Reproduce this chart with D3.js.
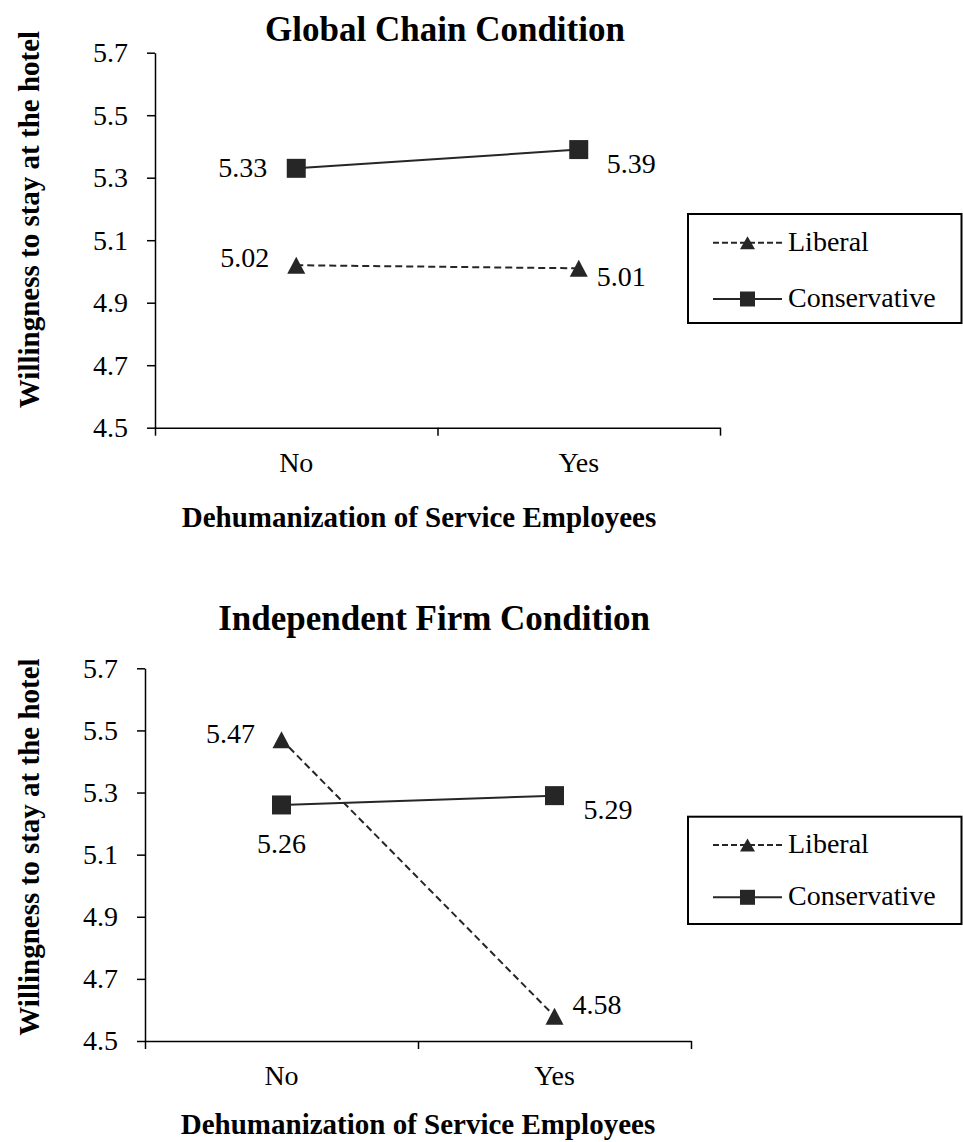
<!DOCTYPE html>
<html>
<head>
<meta charset="utf-8">
<script src="https://cdn.jsdelivr.net/npm/d3@7"></script>
<style>
  html, body { margin: 0; padding: 0; background: #fff; }
  svg { display: block; }
  text { font-family: "Liberation Serif", "Times New Roman", Times, serif; fill: #000; }
</style>
</head>
<body>
<svg id="chart" width="963" height="1142"></svg>
<script>
// Interaction plot data: willingness to stay, by dehumanization and ideology
const categories = ["No", "Yes"];
const seriesNames = ["Liberal", "Conservative"];
const yTicks = [4.5, 4.7, 4.9, 5.1, 5.3, 5.5, 5.7];
const panelTitles = ["Global Chain Condition", "Independent Firm Condition"];
const globalLiberal = [5.02, 5.01];
const globalConservative = [5.33, 5.39];
const independentLiberal = [5.47, 4.58];
const independentConservative = [5.26, 5.29];
const xTitle = "Dehumanization of Service Employees";
const yTitle = "Willingness to stay at the hotel";

const ink = "#262626";
const svg = d3.select("#chart");

// Panel geometry and label placement (dx, dy from each point; anchor)
const panels = [
  {
    title: panelTitles[0],
    liberal: globalLiberal,
    conservative: globalConservative,
    left: 155, right: 720, top: 52.7, bottom: 427.7,
    titleX: 445, titleY: 41,
    yTitleX: 39, yTitleY: 219.5,
    xTitleX: 419, xTitleGap: 99,
    legend: { x0: 688, x1: 961.5, y0: 214, y1: 323, rows: [242.7, 299] },
    libLabels: [{dx: -27, dy: 2, anchor: "end"}, {dx: 18, dy: 18, anchor: "start"}],
    conLabels: [{dx: -29, dy: 8.5, anchor: "end"}, {dx: 28, dy: 23, anchor: "start"}]
  },
  {
    title: panelTitles[1],
    liberal: independentLiberal,
    conservative: independentConservative,
    left: 145, right: 691, top: 668.3, bottom: 1041,
    titleX: 434, titleY: 630,
    yTitleX: 39, yTitleY: 847,
    xTitleX: 418, xTitleGap: 93,
    legend: { x0: 688, x1: 961.5, y0: 816.7, y1: 924, rows: [845, 897.3] },
    libLabels: [{dx: -26.5, dy: 3, anchor: "end"}, {dx: 18, dy: -2, anchor: "start"}],
    conLabels: [{dx: 0, dy: 48, anchor: "middle"}, {dx: 29, dy: 23, anchor: "start"}]
  }
];

const triangle = (s, h) => `M0,${-h/2}L${s/2},${h/2}L${-s/2},${h/2}Z`;
const square = s => `M${-s/2},${-s/2}h${s}v${s}h${-s}Z`;

panels.forEach(p => {
  const g = svg.append("g");

  const y = d3.scaleLinear().domain([4.5, 5.7]).range([p.bottom, p.top]);
  const x = d3.scaleBand().domain(categories).range([p.left, p.right]).padding(0);
  const xEdge = d3.scaleLinear().domain([0, categories.length]).range([p.left, p.right]);
  const cx = c => x(c) + x.bandwidth() / 2;

  // Y axis
  const yAxis = g.append("g")
    .attr("transform", `translate(${p.left},0)`)
    .call(d3.axisLeft(y).tickValues(yTicks).tickFormat(d3.format(".1f"))
      .tickSize(8).tickSizeOuter(0).tickPadding(19));
  yAxis.attr("font-family", null);
  yAxis.select(".domain").attr("stroke", "#000").attr("stroke-width", 1.5);
  yAxis.selectAll(".tick line").attr("stroke", "#000").attr("stroke-width", 1.5);
  yAxis.selectAll(".tick text").style("font-size", "28px").attr("fill", "#000");

  // X axis with ticks at category boundaries
  const xAxis = g.append("g")
    .attr("transform", `translate(0,${p.bottom})`)
    .call(d3.axisBottom(xEdge).tickValues(d3.range(0, categories.length + 1))
      .tickFormat("").tickSize(8).tickSizeOuter(0));
  xAxis.select(".domain").attr("stroke", "#000").attr("stroke-width", 1.5);
  xAxis.selectAll(".tick line").attr("stroke", "#000").attr("stroke-width", 1.5);

  g.selectAll(".cat").data(categories).join("text")
    .attr("x", d => cx(d)).attr("y", p.bottom + 44)
    .attr("text-anchor", "middle").style("font-size", "28px").text(d => d);

  // Titles
  g.append("text").attr("x", p.titleX).attr("y", p.titleY)
    .attr("text-anchor", "middle").style("font-size", "35px").style("font-weight", "bold")
    .text(p.title);
  g.append("text").attr("x", p.xTitleX).attr("y", p.bottom + p.xTitleGap)
    .attr("text-anchor", "middle").style("font-size", "29px").style("font-weight", "bold")
    .text(xTitle);
  g.append("text")
    .attr("transform", `translate(${p.yTitleX},${p.yTitleY}) rotate(-90)`)
    .attr("text-anchor", "middle").style("font-size", "29px").style("font-weight", "bold")
    .text(yTitle);

  const line = d3.line().x((d, i) => cx(categories[i])).y(d => y(d));

  // Liberal: dashed line with triangles
  g.append("path").datum(p.liberal).attr("d", line)
    .attr("fill", "none").attr("stroke", ink).attr("stroke-width", 2).attr("stroke-dasharray", "7,4");
  // Conservative: solid line with squares
  g.append("path").datum(p.conservative).attr("d", line)
    .attr("fill", "none").attr("stroke", ink).attr("stroke-width", 2);

  g.selectAll(".tri").data(p.liberal).join("path")
    .attr("transform", (d, i) => `translate(${cx(categories[i])},${y(d)})`)
    .attr("d", triangle(18, 17)).attr("fill", ink);
  g.selectAll(".sq").data(p.conservative).join("path")
    .attr("transform", (d, i) => `translate(${cx(categories[i])},${y(d)})`)
    .attr("d", square(19)).attr("fill", ink);

  // Value labels
  const fmt = d3.format(".2f");
  g.selectAll(".libLab").data(p.liberal).join("text")
    .attr("x", (d, i) => cx(categories[i]) + p.libLabels[i].dx)
    .attr("y", (d, i) => y(d) + p.libLabels[i].dy)
    .attr("text-anchor", (d, i) => p.libLabels[i].anchor)
    .style("font-size", "28px").text(d => fmt(d));
  g.selectAll(".conLab").data(p.conservative).join("text")
    .attr("x", (d, i) => cx(categories[i]) + p.conLabels[i].dx)
    .attr("y", (d, i) => y(d) + p.conLabels[i].dy)
    .attr("text-anchor", (d, i) => p.conLabels[i].anchor)
    .style("font-size", "28px").text(d => fmt(d));

  // Legend
  const L = p.legend;
  g.append("rect").attr("x", L.x0).attr("y", L.y0)
    .attr("width", L.x1 - L.x0).attr("height", L.y1 - L.y0)
    .attr("fill", "#fff").attr("stroke", "#000").attr("stroke-width", 2);
  seriesNames.forEach((name, i) => {
    const ry = L.rows[i];
    g.append("line").attr("x1", 713).attr("x2", 782).attr("y1", ry).attr("y2", ry)
      .attr("stroke", ink).attr("stroke-width", 2)
      .attr("stroke-dasharray", i === 0 ? "6,3" : null);
    g.append("path").attr("transform", `translate(747.5,${ry})`)
      .attr("d", i === 0 ? triangle(15, 13) : square(15)).attr("fill", ink);
    g.append("text").attr("x", 788).attr("y", ry + 8)
      .style("font-size", "28px").text(name);
  });
});
</script>
</body>
</html>
